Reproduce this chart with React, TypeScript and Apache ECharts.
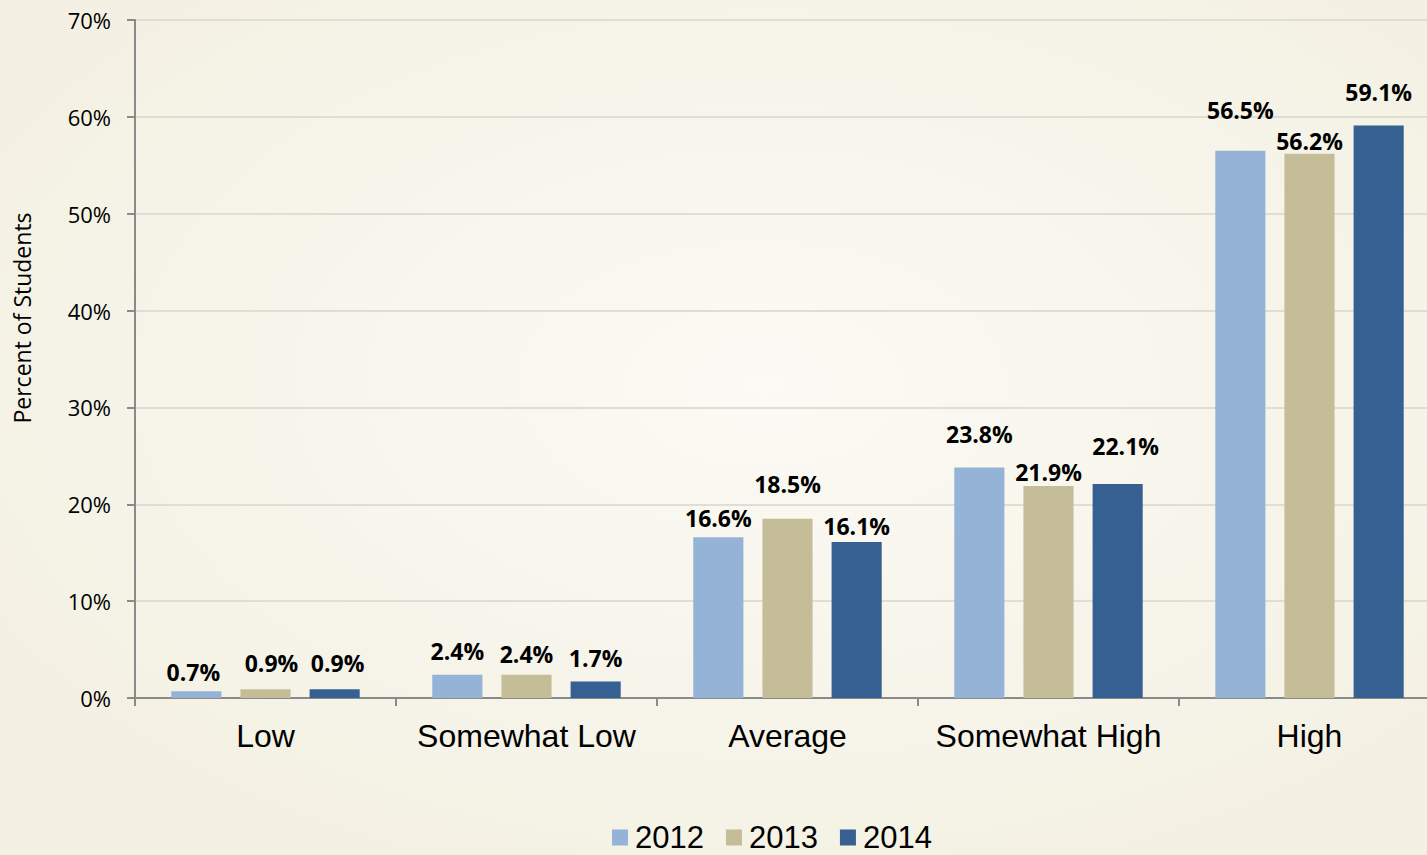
import React, { useEffect, useRef } from "react";
import * as echarts from "echarts";

const categories = ["Low", "Somewhat Low", "Average", "Somewhat High", "High"];
const years = ["2012", "2013", "2014"];
const values2012 = [0.7, 2.4, 16.6, 23.8, 56.5];
const values2013 = [0.9, 2.4, 18.5, 21.9, 56.2];
const values2014 = [0.9, 1.7, 16.1, 22.1, 59.1];
const seriesValues = [values2012, values2013, values2014];
const seriesColors = ["#95b3d7", "#c4bd97", "#366092"];
// label placement tweaks (px), as placed in the reference
const labelDistances = [
  [8, 12, 8, 22, 29],
  [15, 9, 23, 2, 1],
  [15, 12, 5, 26, 22],
];
const labelShiftX = [
  [-3, 0, 0, 0, 0],
  [6, 0, 0, 0, 0],
  [3, 0, 0, 8, 0],
];

export default function App() {
  const ref = useRef<HTMLDivElement>(null);
  useEffect(() => {
    const chart = echarts.init(ref.current!, undefined, { renderer: "svg" });
    chart.setOption({
      animation: false,
      backgroundColor: {
        type: "radial",
        x: 0.53,
        y: 0.45,
        r: 0.6,
        colorStops: [
          { offset: 0, color: "#fbfaf4" },
          { offset: 1, color: "#f4f1e4" },
        ],
      },
      grid: { left: 135, right: 0, top: 20, bottom: 157, containLabel: false },
      legend: {
        data: years,
        top: 822,
        left: 612,
        itemWidth: 16,
        itemHeight: 16,
        itemGap: 22,
        icon: "rect",
        padding: 0,
        textStyle: {
          fontFamily: "Liberation Sans",
          fontSize: 31,
          lineHeight: 31,
          color: "#000",
          padding: [0, 0, 0, 2],
        },
      },
      xAxis: {
        type: "category",
        data: categories,
        axisLine: { lineStyle: { color: "#8a8a8a", width: 2 } },
        axisTick: { show: true, interval: 0, length: 8, lineStyle: { color: "#8a8a8a", width: 2 } },
        axisLabel: { interval: 0, fontFamily: "Liberation Sans", fontSize: 32, color: "#000", margin: 22 },
      },
      yAxis: {
        type: "value",
        min: 0,
        max: 70,
        interval: 10,
        axisLine: { show: true, lineStyle: { color: "#8a8a8a", width: 2 } },
        axisTick: { show: true, length: 8, lineStyle: { color: "#8a8a8a", width: 2 } },
        axisLabel: {
          formatter: "{value}%",
          fontFamily: "Open Sans",
          fontSize: 22,
          color: "#000",
          margin: 24,
        },
        splitLine: { lineStyle: { color: "#e0ddd2", width: 2 } },
      },
      graphic: [
        {
          type: "text",
          x: 22,
          y: 318,
          rotation: Math.PI / 2,
          style: {
            text: "Percent of Students",
            fontFamily: "Open Sans",
            fontSize: 23,
            fill: "#000",
            align: "center",
            verticalAlign: "middle",
          },
        },
      ],
      series: seriesValues.map((vals, si) => ({
        name: years[si],
        type: "bar",
        barWidth: "19.2%",
        barGap: "38%",
        itemStyle: { color: seriesColors[si] },
        label: {
          show: true,
          position: "top",
          formatter: (p: any) => p.value.toFixed(1) + "%",
          fontFamily: "Open Sans",
          fontWeight: "bold",
          fontSize: 23,
          color: "#000",
        },
        data: vals.map((v, i) => ({
          value: v,
          label: { distance: labelDistances[si][i], offset: [labelShiftX[si][i], 0] },
        })),
      })),
    });
    return () => chart.dispose();
  }, []);
  return (
    <div style={{ position: "absolute", left: 0, top: 0, width: 1427, height: 855, overflow: "hidden" }}>
      <div ref={ref} style={{ width: 1440, height: 855 }} />
    </div>
  );
}
